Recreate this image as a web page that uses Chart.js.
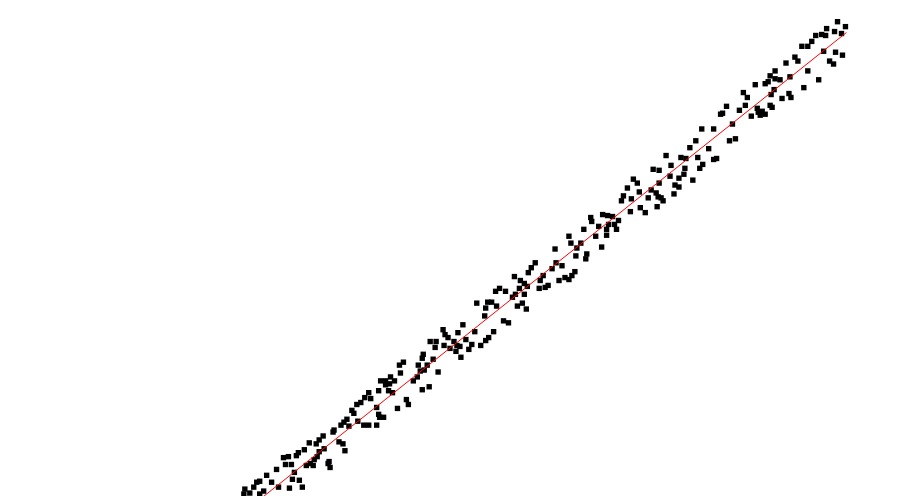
<!DOCTYPE html>
<html>
<head>
<meta charset="utf-8">
<script src="https://cdn.jsdelivr.net/npm/chart.js@4/dist/chart.umd.min.js"></script>
<style>
  html, body { margin: 0; padding: 0; background: #ffffff; }
  #wrap { width: 900px; height: 500px; }
</style>
</head>
<body>
<div id="wrap"><canvas id="c" width="900" height="500"></canvas></div>
<script>
// Scatter sample values (x, y)
const xs = [
24.3,24.2,24.8,25.2,25.5,25.8,25.8,26.2,26.5,27.0,27.5,27.7,28.2,28.4,28.7,28.8,29.0,29.1,29.3,29.5,29.7,29.8,30.1,30.3,30.5,30.8,30.9,31.2,31.3,31.5,31.6,31.8,31.8,32.2,32.3,32.7,32.8,32.9,33.2,33.3,33.8,34.0,34.2,34.3,34.4,34.6,34.8,
35.1,35.3,35.6,35.7,36.0,36.3,36.4,36.8,36.8,37.0,37.6,37.6,37.8,37.8,37.9,38.0,38.3,38.5,38.5,38.8,38.9,39.0,39.2,39.4,39.7,39.9,40.0,40.3,40.6,40.8,41.3,41.7,41.8,42.0,42.2,42.2,42.3,42.4,42.7,42.9,43.0,43.3,43.5,43.6,43.8,
44.3,44.4,44.5,44.8,45.0,45.4,45.6,45.7,45.8,46.0,46.1,46.3,46.6,46.9,47.2,47.5,47.7,48.1,48.5,48.6,48.6,48.8,48.9,49.2,49.4,49.6,49.7,50.0,50.4,50.6,50.9,51.3,51.5,51.6,51.8,52.0,52.1,52.3,52.5,52.5,52.7,52.8,52.9,
53.2,53.6,54.0,54.1,54.4,54.6,54.9,55.3,55.6,55.7,56.0,56.3,56.6,57.0,57.0,57.2,57.3,57.6,57.7,57.8,58.2,58.5,58.7,58.8,59.2,59.3,59.7,60.0,60.3,60.4,60.8,60.8,60.9,
61.4,62.0,61.6,61.0,61.8,62.3,62.5,62.9,63.2,63.3,63.5,63.9,64.1,64.2,64.7,65.0,65.3,65.5,65.8,65.9,66.0,66.1,66.1,66.3,66.5,66.8,67.2,67.3,67.6,67.7,68.1,68.1,68.3,68.6,68.7,68.8,69.2,69.5,69.8,70.0,70.2,70.5,71.1,
70.4,71.6,71.6,71.9,72.3,72.5,72.9,73.2,73.5,73.8,74.2,74.6,74.8,75.0,75.4,75.8,76.0,76.1,76.3,76.5,76.8,76.8,77.1,77.3,77.3,77.4,77.5,77.7,77.8,77.8,78.3,78.5,78.9,79.2,79.3,79.4,
79.8,80.1,80.5,80.7,81.1,81.1,81.5,81.9,82.2,82.5,82.7,82.9,83.0,83.3,83.7,83.8,83.9,84.1,84.5,84.6,84.9
];
const ys = [
0.7,0.2,0.3,0.9,1.4,1.5,0.2,0.5,2.1,1.4,2.7,0.9,3.9,3.2,4.0,0.8,3.2,1.7,2.4,4.1,4.4,1.6,0.9,4.7,3.1,5.4,3.3,3.1,3.7,5.3,4.0,5.7,4.5,6.1,4.8,3.3,3.5,2.9,6.5,6.7,5.5,7.2,5.3,7.5,4.6,7.8,7.1,
8.7,8.4,9.3,7.6,9.5,7.2,10.0,10.5,7.2,9.9,9.0,7.2,10.7,8.3,8.0,11.7,8.0,11.7,11.3,10.7,11.4,12.1,10.5,11.7,8.9,13.3,12.5,13.6,9.8,9.3,11.7,12.1,13.3,12.7,14.0,10.8,14.4,12.8,13.3,11.1,15.7,13.9,15.1,15.7,12.6,
16.9,15.3,16.4,16.1,15.0,15.7,14.7,15.3,16.6,15.2,14.1,17.4,15.9,14.9,15.4,16.7,19.6,15.3,18.3,19.1,15.8,19.7,16.1,19.7,16.7,20.8,19.3,21.1,17.8,20.8,17.6,20.2,22.3,20.5,19.3,21.1,21.9,19.6,21.6,20.5,19.0,21.3,22.7,
23.2,23.7,21.1,21.9,22.4,21.2,21.4,23.1,25.1,23.7,21.9,23.4,22.2,22.0,26.4,25.7,22.4,22.8,24.4,25.2,25.7,27.1,24.1,24.6,28.3,27.9,26.4,27.4,25.3,28.6,27.1,26.5,28.5,
28.4,28.0,27.6,27.6,27.1,30.0,30.5,31.3,28.9,30.2,32.2,31.8,30.9,29.3,28.8,30.3,31.1,33.2,30.8,29.4,30.4,33.1,31.8,30.3,30.0,34.6,32.5,33.6,30.7,31.6,32.3,31.4,34.4,32.7,33.3,34.3,35.4,32.1,36.1,34.4,33.3,33.7,35.3,
37.3,37.3,34.2,34.3,38.8,38.9,39.6,36.1,37.8,36.3,39.2,41.0,39.7,40.5,38.6,41.8,39.4,39.0,38.7,39.1,41.9,38.8,42.1,42.7,39.7,40.8,39.5,41.3,43.2,42.4,42.3,40.4,44.0,40.9,42.6,40.5,
44.6,44.2,45.7,41.5,45.7,43.2,46.2,46.8,42.3,46.9,45.2,46.8,47.5,44.2,43.9,47.2,45.1,48.2,47.0,44.8,47.7
];
// Fitted trend line end points
const fitX = [24.0, 85.0];
const fitY = [-1.8, 47.1];

const scatterPoints = xs.map((x, i) => ({ x: x, y: ys[i] }));
const fitPoints = fitX.map((x, i) => ({ x: x, y: fitY[i] }));

new Chart(document.getElementById('c'), {
  type: 'scatter',
  data: {
    datasets: [
      {
        type: 'line',
        data: fitPoints,
        borderColor: '#ff0000',
        borderWidth: 1,
        pointRadius: 0,
        fill: false,
        order: 0
      },
      {
        data: scatterPoints,
        backgroundColor: '#000000',
        borderColor: '#000000',
        borderWidth: 0,
        pointRadius: 3.8,
        pointStyle: 'rect',
        order: 1
      }
    ]
  },
  options: {
    responsive: false,
    animation: false,
    layout: { padding: 0 },
    plugins: { legend: { display: false }, tooltip: { enabled: false }, title: { display: false } },
    scales: {
      x: { type: 'linear', min: 0, max: 90, display: false },
      y: { type: 'linear', min: 0, max: 50, display: false }
    }
  }
});
</script>
</body>
</html>
